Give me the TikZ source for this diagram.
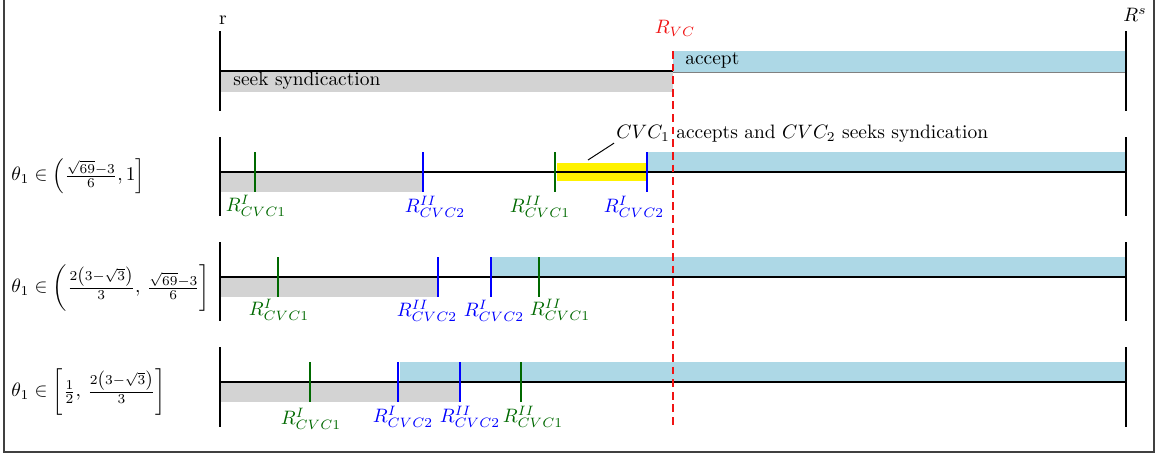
\documentclass[tikz,border=0pt]{standalone}
\usepackage{amsmath}
\definecolor{lblue}{RGB}{173,216,230}
\definecolor{lgray}{RGB}{211,211,211}
\definecolor{dgreen}{RGB}{0,105,0}
\definecolor{vcred}{RGB}{240,20,20}
\begin{document}
\begin{tikzpicture}[x=0.515pt,y=-0.515pt,
  axis/.style={line width=1.3pt},
  endbar/.style={line width=1.3pt},
  gtick/.style={draw=dgreen, line width=1pt},
  btick/.style={draw=blue, line width=1pt},
  glab/.style={text=dgreen, inner sep=0pt},
  blab/.style={text=blue, inner sep=0pt},
  plain/.style={inner sep=0pt}]
\useasboundingbox (0,0) rectangle (1161,455);
% frame
\draw[line width=0.6pt, black!75] (4,0) -- (4,452) -- (1154,452) -- (1154,0);

% ---------------- row 1 ----------------
\fill[lgray] (220,72) rectangle (673,92);
\fill[lblue] (673,51) rectangle (1126,72);
\draw[gray, line width=0.5pt] (673,72) -- (1126,72);
\draw[axis] (220,71) -- (673,71);
\draw[endbar] (220,31) -- (220,111);
\draw[endbar] (1126,31) -- (1126,111);
\node[plain] (r) at (223,20) {r};
\node[plain] (Rs) at (1135,15) {$R^s$};
\node[plain, text=vcred] (Rvc) at (675,28) {$R_{VC}$};
\node[plain, anchor=west] (seek) at (233,81) {seek syndicaction};
\node[plain, anchor=west] (acc) at (685,60) {accept};

% ---------------- row 2 ----------------
\fill[lgray] (220,172) rectangle (423,192);
\fill[yellow] (557,163) rectangle (647,181);
\fill[lblue] (647,152) rectangle (1126,172);
\draw[axis] (220,172) -- (1126,172);
\draw[endbar] (220,137) -- (220,216);
\draw[endbar] (1126,137) -- (1126,216);
\draw[gtick] (255,152) -- (255,192);
\draw[btick] (423,152) -- (423,192);
\draw[gtick] (555,152) -- (555,192);
\draw[btick] (647,152) -- (647,192);
\node[glab] (a1) at (256,206) {$R^{I}_{CVC1}$};
\node[blab] (a2) at (435,207) {$R^{II}_{CVC2}$};
\node[glab] (a3) at (540,207) {$R^{II}_{CVC1}$};
\node[blab] (a4) at (634,207) {$R^{I}_{CVC2}$};
\node[plain, anchor=west] (annot) at (616,134) {$CVC_1$ accepts and $CVC_2$ seeks syndication};
\coordinate (ypt) at (588,160);
\draw[line width=0.5pt] (ypt) -- ([xshift=-1pt]annot.south west);
\node[plain, anchor=west] (th1) at (11,176) {$\theta_1\in\left(\frac{\sqrt{69}-3}{6},1\right]$};

% ---------------- row 3 ----------------
\fill[lgray] (220,277) rectangle (438,297);
\fill[lblue] (491,257) rectangle (1126,277);
\draw[axis] (220,277) -- (1126,277);
\draw[endbar] (220,242) -- (220,321);
\draw[endbar] (1126,242) -- (1126,321);
\draw[gtick] (278,257) -- (278,297);
\draw[btick] (438,257) -- (438,297);
\draw[btick] (491,257) -- (491,297);
\draw[gtick] (539,257) -- (539,297);
\node[glab] (b1) at (279,310) {$R^{I}_{CVC1}$};
\node[blab] (b2) at (427,311) {$R^{II}_{CVC2}$};
\node[blab] (b3) at (494,311) {$R^{I}_{CVC2}$};
\node[glab] (b4) at (560,310) {$R^{II}_{CVC1}$};
\node[plain, anchor=west] (th2) at (11,288) {$\theta_1\in\left(\frac{2\left(3-\sqrt{3}\right)}{3},\,\frac{\sqrt{69}-3}{6}\right]$};

% ---------------- row 4 ----------------
\fill[lgray] (220,382) rectangle (460,402);
\fill[lblue] (400,362) rectangle (1126,382);
\draw[axis] (220,382) -- (1126,382);
\draw[endbar] (220,347) -- (220,427);
\draw[endbar] (1126,347) -- (1126,427);
\draw[gtick] (310,362) -- (310,402);
\draw[btick] (398,362) -- (398,402);
\draw[btick] (460,362) -- (460,402);
\draw[gtick] (521,362) -- (521,402);
\node[glab] (c1) at (311,419) {$R^{I}_{CVC1}$};
\node[blab] (c2) at (403,417) {$R^{I}_{CVC2}$};
\node[blab] (c3) at (470,417) {$R^{II}_{CVC2}$};
\node[glab] (c4) at (533,417) {$R^{II}_{CVC1}$};
\node[plain, anchor=west] (th3) at (11,392) {$\theta_1\in\left[\frac{1}{2},\,\frac{2\left(3-\sqrt{3}\right)}{3}\right]$};

% red dashed R_VC line
\coordinate (vtop) at (673,51);
\coordinate (vbot) at (673,426);
\draw[vcred, line width=1.4pt, dash pattern=on 4pt off 2.5pt] (vtop) -- (vbot);
\end{tikzpicture}
\end{document}
